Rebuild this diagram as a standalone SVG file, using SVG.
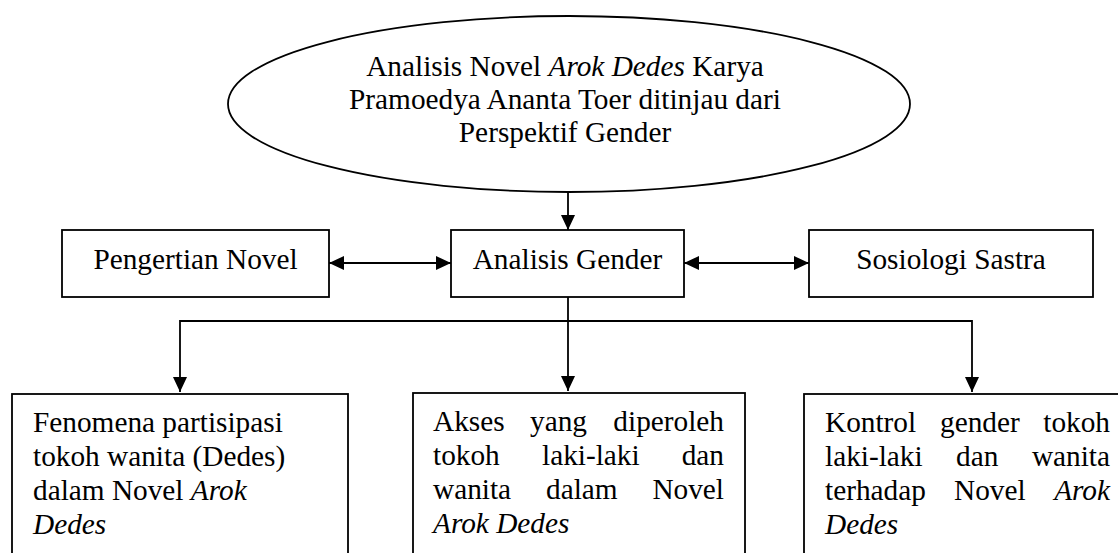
<svg xmlns="http://www.w3.org/2000/svg" width="1118" height="553" viewBox="0 0 1118 553">
<style>
.box{fill:#fff;stroke:#000;stroke-width:1.8}
.con{fill:none;stroke:#000;stroke-width:1.8}
text{font-family:"Liberation Serif","Times New Roman",serif;font-size:29.3px;fill:#000}
.c{text-anchor:middle}
.e{text-anchor:end}
.i{font-style:italic}
</style>
<defs>
<marker id="ah" viewBox="0 0 15 14" refX="15" refY="7" markerWidth="15" markerHeight="14" markerUnits="userSpaceOnUse" orient="auto-start-reverse">
<path d="M0,0 L15,7 L0,14 Z" fill="#000"/>
</marker>
</defs>
<rect width="1118" height="553" fill="#fff"/>
<g id="connectors">
<line class="con" x1="568" y1="192" x2="568" y2="230" marker-end="url(#ah)"/>
<line class="con" x1="329" y1="263" x2="451" y2="263" marker-start="url(#ah)" marker-end="url(#ah)"/>
<line class="con" x1="684" y1="263" x2="809" y2="263" marker-start="url(#ah)" marker-end="url(#ah)"/>
<line class="con" x1="568" y1="297" x2="568" y2="391" marker-end="url(#ah)"/>
<polyline class="con" points="180,392 180,321 972,321 972,392" marker-start="url(#ah)" marker-end="url(#ah)"/>
</g>
<g id="title">
<ellipse class="box" cx="569" cy="104" rx="341" ry="88"/>
<text class="c" x="565" y="76">Analisis Novel <tspan class="i">Arok Dedes</tspan> Karya</text>
<text class="c" x="565" y="109">Pramoedya Ananta Toer ditinjau dari</text>
<text class="c" x="565" y="142">Perspektif Gender</text>
</g>
<g id="pengertian">
<rect class="box" x="62" y="230" width="267" height="67"/>
<text class="c" x="195.5" y="269">Pengertian Novel</text>
</g>
<g id="analisis">
<rect class="box" x="451" y="230" width="233" height="67"/>
<text class="c" x="567.5" y="269">Analisis Gender</text>
</g>
<g id="sosiologi">
<rect class="box" x="809" y="230" width="284" height="67"/>
<text class="c" x="951" y="269">Sosiologi Sastra</text>
</g>
<g id="fenomena">
<rect class="box" x="12" y="394" width="336" height="175"/>
<text x="33" y="432">Fenomena partisipasi</text>
<text x="33" y="466">tokoh wanita (Dedes)</text>
<text x="33" y="500">dalam Novel <tspan class="i">Arok</tspan></text>
<text x="33" y="534" class="i">Dedes</text>
</g>
<g id="akses">
<rect class="box" x="413" y="393" width="332" height="175"/>
<text x="433" y="431">Akses</text><text x="530" y="431">yang</text><text class="e" x="724" y="431">diperoleh</text>
<text x="433" y="465">tokoh</text><text x="542" y="465">laki-laki</text><text class="e" x="724" y="465">dan</text>
<text x="433" y="499">wanita</text><text x="546" y="499">dalam</text><text class="e" x="724" y="499">Novel</text>
<text x="433" y="533" class="i">Arok Dedes</text>
</g>
<g id="kontrol">
<rect class="box" x="804" y="394" width="340" height="175"/>
<text x="825" y="432">Kontrol</text><text x="940" y="432">gender</text><text class="e" x="1110" y="432">tokoh</text>
<text x="825" y="466">laki-laki</text><text x="956" y="466">dan</text><text class="e" x="1110" y="466">wanita</text>
<text x="825" y="500">terhadap</text><text x="954" y="500">Novel</text><text class="e i" x="1110" y="500">Arok</text>
<text x="825" y="534" class="i">Dedes</text>
</g>
</svg>
